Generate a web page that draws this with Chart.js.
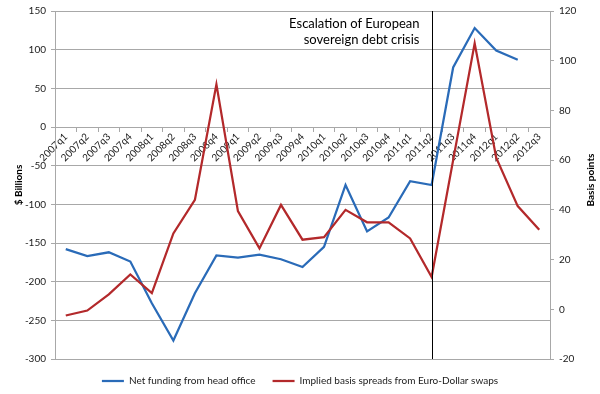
<!DOCTYPE html>
<html>
<head>
<meta charset="utf-8">
<script src="https://cdn.jsdelivr.net/npm/chart.js@4"></script>
<style>
	html, body { margin: 0; padding: 0; background: #fff; }
	#wrap { width: 600px; height: 394px; }
</style>
</head>
<body>
<div id="wrap"><canvas id="chart"></canvas></div>
<script>
// quarters on the category axis
let quarters = ["2007q1", "2007q2", "2007q3", "2007q4", "2008q1", "2008q2", "2008q3", "2008q4",
	"2009q1", "2009q2", "2009q3", "2009q4", "2010q1", "2010q2", "2010q3", "2010q4",
	"2011q1", "2011q2", "2011q3", "2011q4", "2012q1", "2012q2", "2012q3"];

// $ billions, left axis
let netFunding = [-158, -167, -162, -174, -228, -276, -215, -166,
	-169, -165, -171, -181, -155, -75, -135, -117,
	-70, -75, 77, 128, 99, 87, null];

// basis points, right axis
let basisSpread = [-2.5, -0.5, 6, 14, 6.5, 30.5, 44, 90.5,
	39.5, 24.5, 42, 28, 29, 40, 35, 35,
	28.5, 13, 60, 107, 61, 41.5, 32];

let crisisQuarter = "2011q2";
let crisisText = ["Escalation of European", "sovereign debt crisis"];

let blue = "#2a6bb8";
let red = "#b3292b";
let gridColor = "#a8a8a8";

Chart.defaults.font.family = "Lato, 'Open Sans', sans-serif";
Chart.defaults.color = "#1a1a1a";

// keep legend band fixed so the plot area sits where it should
let legendHeight = {
	id: "legendHeight",
	beforeInit(chart) {
		let fit = chart.legend.fit;
		chart.legend.fit = function () {
			fit.bind(chart.legend)();
			this.height = 35;
		};
	}
};

let extras = {
	id: "extras",
	afterDatasetsDraw(chart) {
		let ctx = chart.ctx;
		let area = chart.chartArea;
		let x = Math.round(chart.scales.x.getPixelForValue(quarters.indexOf(crisisQuarter))) + 0.5;

		ctx.save();
		ctx.strokeStyle = "#000";
		ctx.lineWidth = 1;
		ctx.beginPath();
		ctx.moveTo(x, area.top);
		ctx.lineTo(x, area.bottom);
		ctx.stroke();

		ctx.fillStyle = "#000";
		ctx.font = "13px Lato, 'Open Sans', sans-serif";
		ctx.textAlign = "right";
		ctx.textBaseline = "alphabetic";
		ctx.fillText(crisisText[0], x - 13, area.top + 16.5);
		ctx.fillText(crisisText[1], x - 13, area.top + 32.5);
		ctx.restore();

		// right title reads bottom to top like the left one
		ctx.save();
		ctx.translate(591, (area.top + area.bottom) / 2 - 5);
		ctx.rotate(-Math.PI / 2);
		ctx.fillStyle = "#000";
		ctx.font = "bold 10px Lato, 'Open Sans', sans-serif";
		ctx.textAlign = "center";
		ctx.textBaseline = "middle";
		ctx.fillText("Basis points", 0, 0);
		ctx.restore();
	}
};

let chart = new Chart(document.getElementById("chart"), {
	type: "line",
	data: {
		labels: quarters,
		datasets: [{
			label: "Net funding from head office",
			data: netFunding,
			yAxisID: "y",
			borderColor: blue,
			backgroundColor: blue,
			borderWidth: 2.25,
			pointRadius: 0,
			tension: 0,
			order: 1
		}, {
			label: "Implied basis spreads from Euro-Dollar swaps",
			data: basisSpread,
			yAxisID: "y1",
			borderColor: red,
			backgroundColor: red,
			borderWidth: 2.25,
			pointRadius: 0,
			tension: 0,
			order: 0
		}]
	},
	options: {
		responsive: true,
		maintainAspectRatio: false,
		animation: false,
		layout: {
			padding: { top: 11, bottom: 0, left: 0, right: 0 }
		},
		plugins: {
			legend: {
				position: "bottom",
				labels: {
					usePointStyle: true,
					pointStyle: "line",
					pointStyleWidth: 22,
					boxHeight: 2,
					padding: 17,
					font: { size: 10 },
					color: "#1a1a1a",
					sort: (a, b) => a.datasetIndex - b.datasetIndex
				}
			},
			tooltip: { enabled: false }
		},
		scales: {
			x: {
				type: "category",
				position: { y: 0 },
				offset: true,
				grid: {
					offset: true,
					drawOnChartArea: false,
					drawTicks: true,
					tickLength: 4,
					color: gridColor
				},
				border: { color: gridColor },
				ticks: {
					autoSkip: false,
					minRotation: 45,
					maxRotation: 45,
					padding: 0,
					font: { size: 10 }
				}
			},
			y: {
				position: "left",
				min: -300,
				max: 150,
				ticks: { stepSize: 50, padding: 5, font: { size: 10 } },
				grid: { color: gridColor, tickLength: 4 },
				border: { color: gridColor },
				title: {
					display: true,
					text: "$ Billions",
					font: { size: 10, weight: "bold" },
					color: "#000",
					padding: { top: 13, bottom: 0 }
				},
				afterFit(scale) { scale.width = 55; }
			},
			y1: {
				position: "right",
				min: -20,
				max: 120,
				ticks: { stepSize: 20, padding: 5, font: { size: 10 } },
				grid: { drawOnChartArea: false, color: gridColor, tickLength: 4 },
				border: { color: gridColor },
				afterFit(scale) { scale.width = 50; }
			}
		}
	},
	plugins: [legendHeight, extras]
});
</script>
</body>
</html>
